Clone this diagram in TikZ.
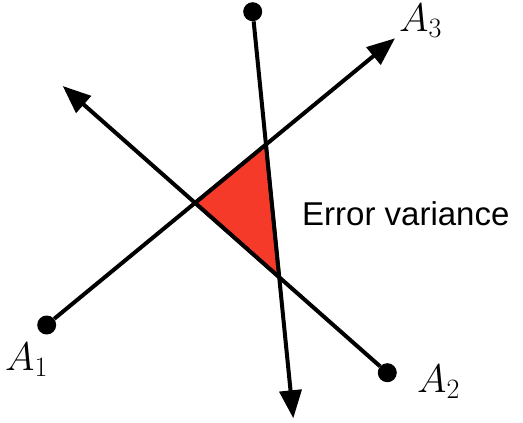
\RequirePackage{fix-cm}
\documentclass[tikz,border=0pt]{standalone}
\usepackage{fontspec}
\newfontfamily\sansfam{Liberation Sans}
\usetikzlibrary{arrows.meta}
\definecolor{errred}{RGB}{245,58,42}
\begin{document}
\begin{tikzpicture}[x=1pt,y=-1pt,
  ray/.style={line width=4pt,-{Triangle[length=28pt,width=22pt]}},
  dot/.style={circle,fill=black,inner sep=0pt,minimum size=19pt},
  lab/.style={inner sep=0pt,anchor=base west,font=\fontsize{40}{44}\selectfont}]
\useasboundingbox (0,0) rectangle (523,423);
\coordinate (p1) at (46.7,325);
\coordinate (p2) at (387.3,372.7);
\coordinate (p3) at (252.7,11.7);
\coordinate (e1) at (395,38.3);
\coordinate (e2) at (62.7,86);
\coordinate (e3) at (293.3,418.3);
\coordinate (t1) at (intersection of p1--e1 and p2--e2);
\coordinate (t2) at (intersection of p1--e1 and p3--e3);
\coordinate (t3) at (intersection of p2--e2 and p3--e3);
\filldraw[fill=errred,draw=black,line width=3.5pt,line join=round] (t1) -- (t2) -- (t3) -- cycle;
\node[dot] (d1) at (p1) {};
\node[dot] (d2) at (p2) {};
\node[dot] (d3) at (p3) {};
\draw[ray] (d1) -- (e1);
\draw[ray] (d2) -- (e2);
\draw[ray] (d3) -- (e3);
\node[lab] (l1) at (5,370) {$A_1$};
\node[lab] (l2) at (417,392.7) {$A_2$};
\node[lab] (l3) at (399,31.7) {$A_3$};
\node[inner sep=0pt,anchor=base west,font=\sansfam\fontsize{33}{36}\selectfont] (ev) at (302,225) {Error variance};
\end{tikzpicture}
\end{document}
